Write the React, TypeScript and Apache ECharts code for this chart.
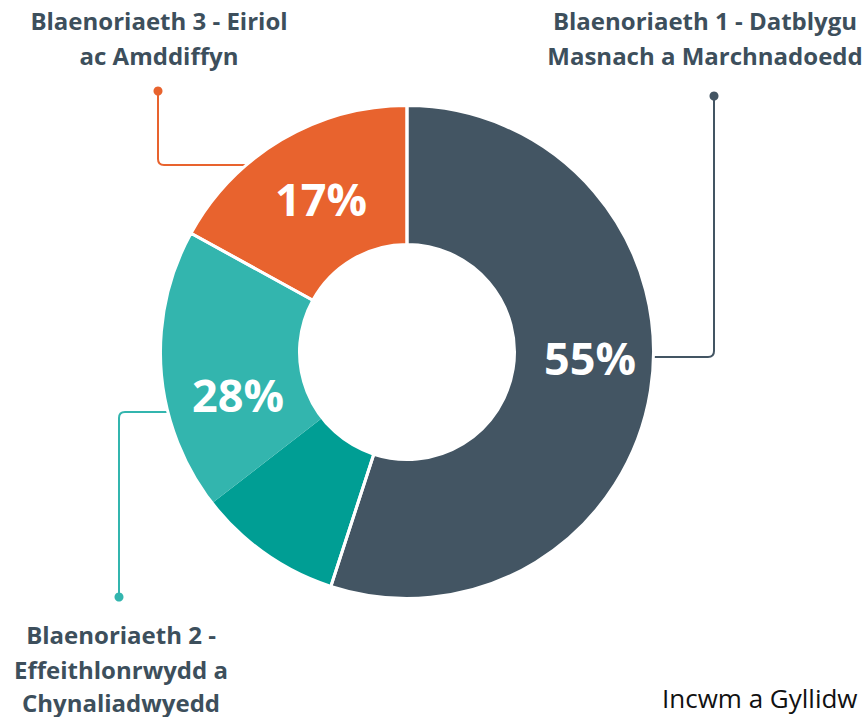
import React, { useEffect, useRef } from "react";
import * as echarts from "echarts";

// Data
const categories = [
  "Blaenoriaeth 1 - Datblygu Masnach a Marchnadoedd",
  "Blaenoriaeth 2 - Effeithlonrwydd a Chynaliadwyedd",
  "Blaenoriaeth 3 - Eiriol ac Amddiffyn",
];
const shares = [55, 28, 17];
const percentLabels = ["55%", "28%", "17%"];
// Priority 2 is drawn in two shades of teal
const segmentNames = ["Blaenoriaeth 1", "Blaenoriaeth 2 (a)", "Blaenoriaeth 2 (b)", "Blaenoriaeth 3"];
const segmentValues = [55, 9.5, 18.5, 17];
const segmentColors = ["#435563", "#009e94", "#33b5ae", "#e8632e"];
const categoryColors = ["#435563", "#33b5ae", "#e8632e"];
const footerText = "Incwm a Gyllidw";

const TEXT_DARK = "#3d4f5c";
const FONT = "'Open Sans', 'Noto Sans', sans-serif";

echarts.graphic.registerShape(
  "leaderSlate",
  echarts.graphic.extendPath("M714 96 L714 351 Q714 357 708 357 L652 357", {})
);
echarts.graphic.registerShape(
  "leaderOrange",
  echarts.graphic.extendPath("M158 91 L158 159 Q158 165 164 165 L249 165", {})
);
echarts.graphic.registerShape(
  "leaderTeal",
  echarts.graphic.extendPath("M119 597 L119 418 Q119 412 125 412 L170 412", {})
);

export default function App() {
  const ref = useRef<HTMLDivElement>(null);

  useEffect(() => {
    if (!ref.current) return;
    const chart = echarts.init(ref.current, null, { renderer: "svg" });

    const labelText = (text: string, x: number, y: number) => ({
      type: "text",
      x,
      y,
      z: 10,
      style: {
        text,
        fill: TEXT_DARK,
        font: `700 24px ${FONT}`,
        textAlign: "center",
        textVerticalAlign: "middle",
      },
    });

    const pctText = (text: string, x: number, y: number) => ({
      type: "text",
      x,
      y,
      z: 100,
      style: {
        text,
        fill: "#ffffff",
        font: `700 45px ${FONT}`,
        textAlign: "center",
        textVerticalAlign: "middle",
      },
    });

    chart.setOption({
      animation: false,
      backgroundColor: "#ffffff",
      series: [
        {
          type: "pie",
          name: "segments",
          center: [407, 352],
          radius: [107.5, 246.5],
          startAngle: 90,
          clockwise: true,
          silent: true,
          label: { show: false },
          labelLine: { show: false },
          z: 2,
          data: segmentValues.map((v, i) => ({
            name: segmentNames[i],
            value: v,
            itemStyle: { color: segmentColors[i] },
          })),
        },
        {
          type: "pie",
          name: "separators",
          center: [407, 352],
          radius: [107.5, 246.5],
          startAngle: 90,
          clockwise: true,
          silent: true,
          label: { show: false },
          labelLine: { show: false },
          z: 3,
          data: shares.map((v, i) => ({
            name: categories[i],
            value: v,
            itemStyle: { color: "rgba(0,0,0,0)", borderColor: "#ffffff", borderWidth: 3 },
          })),
        },
      ],
      graphic: [
        {
          type: "leaderSlate",
          z: 1,
          style: { stroke: categoryColors[0], lineWidth: 2, fill: "none" },
        },
        {
          type: "leaderOrange",
          z: 1,
          style: { stroke: categoryColors[2], lineWidth: 2, fill: "none" },
        },
        {
          type: "leaderTeal",
          z: 1,
          style: { stroke: categoryColors[1], lineWidth: 2, fill: "none" },
        },
        { type: "circle", z: 1, shape: { cx: 714, cy: 96, r: 4.5 }, style: { fill: categoryColors[0] } },
        { type: "circle", z: 1, shape: { cx: 158, cy: 91, r: 4.5 }, style: { fill: categoryColors[2] } },
        { type: "circle", z: 1, shape: { cx: 119, cy: 597, r: 4.5 }, style: { fill: categoryColors[1] } },

        labelText("Blaenoriaeth 3 - Eiriol", 159, 20),
        labelText("ac Amddiffyn", 159, 55),
        labelText("Blaenoriaeth 1 - Datblygu", 705, 20),
        labelText("Masnach a Marchnadoedd", 705, 55),
        labelText("Blaenoriaeth 2 -", 121, 634),
        labelText("Effeithlonrwydd a", 121, 669),
        labelText("Chynaliadwyedd", 121, 702),

        pctText(percentLabels[0], 590, 357),
        pctText(percentLabels[1], 238, 394),
        pctText(percentLabels[2], 321, 198),

        {
          type: "text",
          x: 662,
          y: 698,
          z: 10,
          style: {
            text: footerText,
            fill: "#111111",
            font: `400 26px 'Open Sans', sans-serif`,
            textAlign: "left",
            textVerticalAlign: "middle",
          },
        },
      ],
    });

    return () => chart.dispose();
  }, []);

  return (
    <div
      ref={ref}
      style={{ position: "fixed", left: 0, top: 0, width: 868, height: 717 }}
    />
  );
}
